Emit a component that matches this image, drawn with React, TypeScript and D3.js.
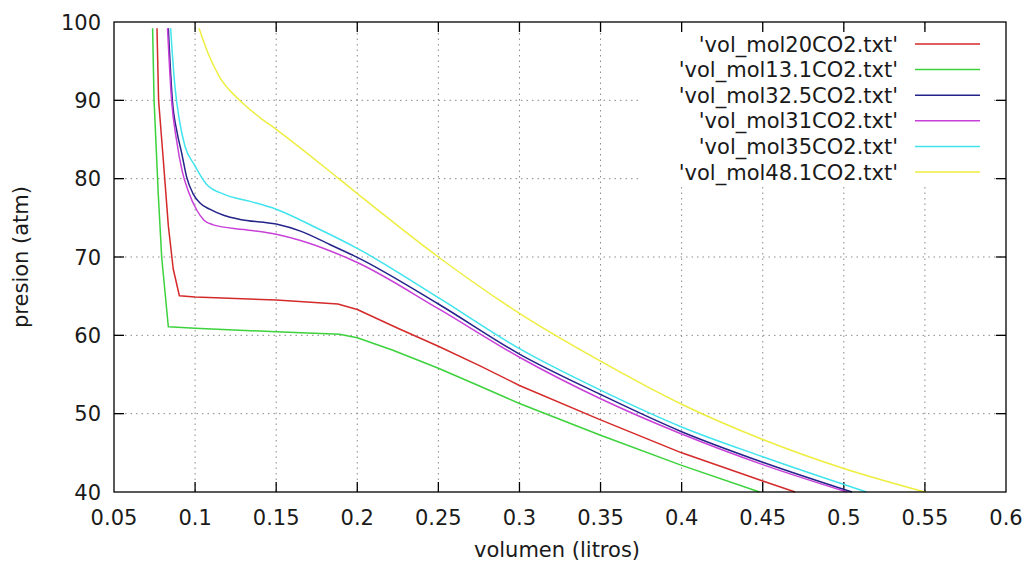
import React from 'react';
import * as d3 from 'd3';

// isotermas del CO2: volumen (litros) vs presion (atm)
type Pt = [number, number];

const vol20: Pt[] = [
  [0.0765, 99.2], [0.0775, 90], [0.0804, 82.4], [0.0835, 74], [0.0865, 68.5], [0.0903, 65.05],
  [0.1, 64.9], [0.15, 64.5], [0.188, 64.0], [0.2, 63.3], [0.225, 60.9], [0.25, 58.6],
  [0.2757, 56.1], [0.3, 53.6], [0.35, 49.2], [0.4, 45.0], [0.45, 41.4], [0.47, 40],
];
const vol13_1: Pt[] = [
  [0.0738, 99.2], [0.0747, 90], [0.076, 84], [0.0773, 78], [0.0794, 70], [0.0835, 61.1],
  [0.1, 60.9], [0.15, 60.45], [0.189, 60.15], [0.2, 59.7], [0.222, 58.1], [0.25, 55.8],
  [0.2757, 53.5], [0.3, 51.3], [0.35, 47.25], [0.4, 43.4], [0.448, 40],
];
const vol32_5: Pt[] = [
  [0.0835, 99.2], [0.086, 90], [0.0888, 86], [0.0917, 83.3], [0.0948, 80.2], [0.0987, 78.1],
  [0.103, 76.9], [0.109, 76.1], [0.118, 75.3], [0.1277, 74.8], [0.15, 74.2], [0.165, 73.3],
  [0.183, 71.6], [0.2, 69.95], [0.25, 64.0], [0.3, 57.6], [0.35, 52.45], [0.4, 47.7],
  [0.45, 43.8], [0.505, 40],
];
const vol31: Pt[] = [
  [0.083, 99.2], [0.0855, 90], [0.0885, 85], [0.092, 81], [0.096, 78.3], [0.101, 76.0],
  [0.1055, 74.7], [0.1112, 74.1], [0.13, 73.5], [0.15, 72.9], [0.165, 72.1], [0.183, 70.8],
  [0.2, 69.3], [0.25, 63.4], [0.3, 57.2], [0.35, 51.9], [0.4, 47.4], [0.45, 43.5], [0.502, 40],
];
const vol35: Pt[] = [
  [0.0849, 99.2], [0.0876, 91.7], [0.0903, 87.5], [0.0938, 84.1], [0.0995, 81.8], [0.107, 79.3],
  [0.118, 78.0], [0.134, 77.1], [0.15, 76.1], [0.175, 73.7], [0.2, 71.1], [0.25, 64.8],
  [0.3, 58.3], [0.35, 53.0], [0.4, 48.3], [0.45, 44.5], [0.514, 40],
];
const vol48_1: Pt[] = [
  [0.1024, 99.2], [0.108, 96.0], [0.1153, 92.9], [0.1265, 90.2], [0.14, 87.8], [0.15, 86.3],
  [0.188, 80.1], [0.2, 78.1], [0.25, 70], [0.3, 62.8], [0.35, 56.7], [0.4, 51.2], [0.45, 46.7],
  [0.5, 43.0], [0.55, 40],
];

const seriesTitles = [
  "'vol_mol20CO2.txt'",
  "'vol_mol13.1CO2.txt'",
  "'vol_mol32.5CO2.txt'",
  "'vol_mol31CO2.txt'",
  "'vol_mol35CO2.txt'",
  "'vol_mol48.1CO2.txt'",
];
const seriesData = [vol20, vol13_1, vol32_5, vol31, vol35, vol48_1];
const seriesColors = ['#d42a2a', '#3cd23c', '#23238a', '#c840d8', '#40e4ee', '#eeee40'];
// las isotermas con tramo horizontal quiebran en seco; las demas son suaves
const seriesSmooth = [false, false, true, true, true, true];

const xTicks = [0.05, 0.1, 0.15, 0.2, 0.25, 0.3, 0.35, 0.4, 0.45, 0.5, 0.55, 0.6];
const yTicks = [40, 50, 60, 70, 80, 90, 100];

const W = 1028;
const H = 564;
const M = { left: 114, right: 1006, top: 22, bottom: 492 };
const FONT = "'DejaVu Sans', sans-serif";
const FS = 21;
const TICK = 10;

export default function App() {
  const x = d3.scaleLinear().domain([0.05, 0.6]).range([M.left, M.right]);
  const y = d3.scaleLinear().domain([40, 100]).range([M.bottom, M.top]);
  const straight = d3.line<Pt>().x(d => x(d[0])).y(d => y(d[1]));
  const smooth = d3.line<Pt>().x(d => x(d[0])).y(d => y(d[1])).curve(d3.curveMonotoneX);

  // caja de la leyenda (opaca, sin borde, como en gnuplot)
  const key = { x0: 638, x1: 992, y0: 30, y1: 186, textX: 898, l0: 915, l1: 980, row0: 44, step: 25.6 };

  return (
    <svg width={W} height={H} style={{ position: 'absolute', left: 0, top: 0, background: '#fff' }}
      fontFamily={FONT} fontSize={FS}>
      <rect width={W} height={H} fill="#fff" />
      {/* rejilla punteada */}
      <g stroke="#8a8a8a" strokeWidth={1} strokeDasharray="1.5,4">
        {xTicks.slice(1, -1).map(t => (
          <line key={'gx' + t} x1={x(t)} x2={x(t)} y1={M.top} y2={M.bottom} />
        ))}
        {yTicks.slice(1, -1).map(t => (
          <line key={'gy' + t} x1={M.left} x2={M.right} y1={y(t)} y2={y(t)} />
        ))}
      </g>

      <rect x={key.x0} y={key.y0} width={key.x1 - key.x0} height={key.y1 - key.y0} fill="#fff" />

      {/* marcas de los ejes, tambien en espejo */}
      <g stroke="#000" strokeWidth={1.3}>
        {xTicks.slice(1, -1).map(t => (
          <g key={'tx' + t}>
            <line x1={x(t)} x2={x(t)} y1={M.bottom} y2={M.bottom - TICK} />
            <line x1={x(t)} x2={x(t)} y1={M.top} y2={M.top + TICK} />
          </g>
        ))}
        {yTicks.slice(1, -1).map(t => (
          <g key={'ty' + t}>
            <line x1={M.left} x2={M.left + TICK} y1={y(t)} y2={y(t)} />
            <line x1={M.right} x2={M.right - TICK} y1={y(t)} y2={y(t)} />
          </g>
        ))}
      </g>

      <g fill="#1a1a1a">
        {xTicks.map(t => (
          <text key={'lx' + t} x={x(t)} y={M.bottom + 33} textAnchor="middle">{String(t)}</text>
        ))}
        {yTicks.map(t => (
          <text key={'ly' + t} x={M.left - 13} y={y(t)} dy="0.36em" textAnchor="end">{t}</text>
        ))}
        <text x={(M.left + M.right) / 2 - 3} y={557} textAnchor="middle">volumen (litros)</text>
        <text transform={`translate(28, ${(M.top + M.bottom) / 2}) rotate(-90)`} textAnchor="middle">presion (atm)</text>
      </g>

      <g fill="none" strokeWidth={1.5} strokeLinejoin="round">
        {seriesData.map((s, i) => (
          <path key={'s' + i} d={(seriesSmooth[i] ? smooth(s) : straight(s)) || ''} stroke={seriesColors[i]} />
        ))}
      </g>

      {seriesTitles.map((name, i) => {
        const ry = key.row0 + i * key.step;
        return (
          <g key={'k' + i}>
            <text x={key.textX} y={ry} dy="0.36em" textAnchor="end" fill="#1a1a1a">{name}</text>
            <line x1={key.l0} x2={key.l1} y1={ry} y2={ry} stroke={seriesColors[i]} strokeWidth={1.5} />
          </g>
        );
      })}

      <rect x={M.left} y={M.top} width={M.right - M.left} height={M.bottom - M.top}
        fill="none" stroke="#000" strokeWidth={1.3} />
    </svg>
  );
}
